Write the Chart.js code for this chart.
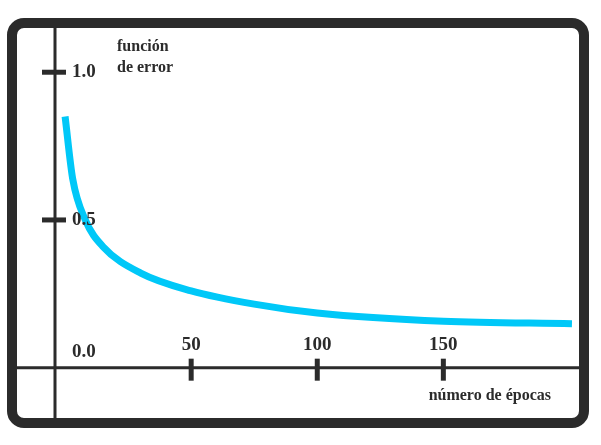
<!DOCTYPE html><html><head><style>body{margin:0;background:#fff}#w{width:601px;height:445px}</style>
<script src="https://cdn.jsdelivr.net/npm/chart.js@4"></script></head><body><div id="w"><canvas id="c"></canvas></div>
<script>
const epochs=[0,3,8,15,30,50,75,100,150,201];
const errorVals=[0.85,0.64,0.50,0.41,0.32,0.26,0.215,0.185,0.157,0.149];
const xTicks=[50,100,150];
const yTicks=[0.5,1.0];
const yLabels=['0.0','0.5','1.0'];
const yTitle=['función','de error'];
const xTitle='número de épocas';
const FONT='bold 19px "Liberation Serif", "DejaVu Serif", serif';
const deco={id:'deco',afterDraw(ch){
 const c=ch.ctx,x=ch.scales.x,y=ch.scales.y;const x0=x.getPixelForValue(0),y0=y.getPixelForValue(0);
 c.save();c.strokeStyle='#2b2b2b';c.fillStyle='#2b2b2b';
 c.lineWidth=3;c.beginPath();c.moveTo(55,25);c.lineTo(55,420);c.moveTo(12,y0);c.lineTo(585,y0);c.stroke();
 c.lineWidth=5;
 xTicks.forEach(t=>{const p=x.getPixelForValue(t);c.beginPath();c.moveTo(p,y0-9);c.lineTo(p,y0+13);c.stroke();
  c.font=FONT;c.textAlign='center';c.textBaseline='alphabetic';c.fillText(String(t),p,y0-18);});
 yTicks.forEach((t,i)=>{const p=y.getPixelForValue(t);c.beginPath();c.moveTo(42,p);c.lineTo(66,p);c.stroke();
  c.font=FONT;c.textAlign='left';c.textBaseline='middle';c.fillText(yLabels[i+1],72,p);});
 c.font=FONT;c.textAlign='left';c.textBaseline='middle';c.fillText(yLabels[0],72,y0-16);
 c.font='bold 16px "Liberation Serif", "DejaVu Serif", serif';c.textAlign='left';c.textBaseline='middle';
 c.fillText(yTitle[0],117,47);c.fillText(yTitle[1],117,68);
 c.textAlign='right';c.fillText(xTitle,551,396);
 c.lineWidth=10;c.beginPath();c.roundRect(12,23,572,400,12);c.stroke();
 c.restore();}};
new Chart(document.getElementById('c'),{type:'line',
 data:{datasets:[{data:epochs.map((e,i)=>({x:e,y:errorVals[i]})),borderColor:'#00c8f8',borderWidth:7,pointRadius:0,cubicInterpolationMode:'monotone'}]},
 options:{responsive:true,maintainAspectRatio:false,animation:false,
  layout:{padding:{left:55,right:24,top:22,bottom:33}},
  plugins:{legend:{display:false},tooltip:{enabled:false}},
  scales:{x:{type:'linear',min:-4,max:203,display:false},y:{min:-0.15,max:1.17,display:false}}},
 plugins:[deco]});
</script></body></html>
